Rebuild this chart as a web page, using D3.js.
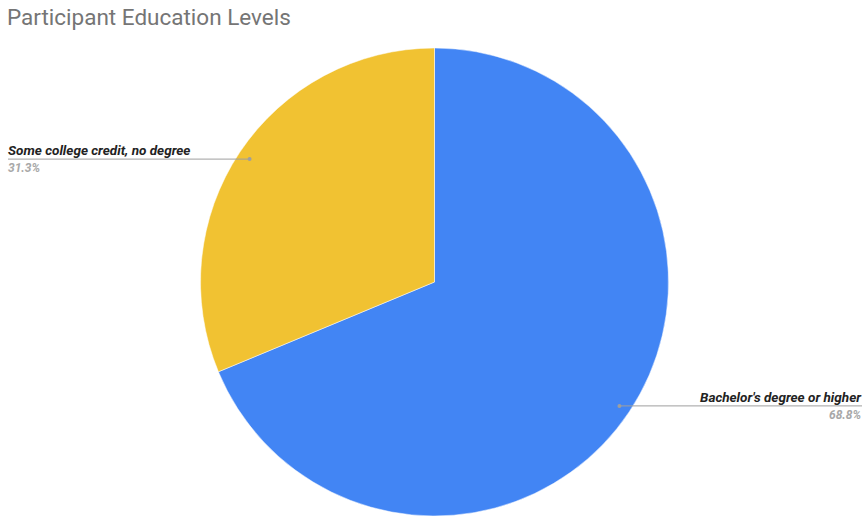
<!DOCTYPE html>
<html>
<head>
<meta charset="utf-8">
<script src="https://cdn.jsdelivr.net/npm/d3@7"></script>
<style>
  html, body { margin: 0; padding: 0; background: #fff; }
  svg { display: block; font-family: Roboto, "Noto Sans", sans-serif; }
</style>
</head>
<body>
<svg id="chart" width="863" height="521"></svg>
<script>
// Education level shares (percent)
const categories = ["Bachelor's degree or higher", "Some college credit, no degree"];
const values = [68.8, 31.3];
const valueLabels = ["68.8%", "31.3%"];
const colors = ["#4285f4", "#f1c232"];

const svg = d3.select("#chart");
const W = 863, H = 521;
const cx = 434.5, cy = 282, R = 234;

svg.append("text")
  .attr("x", 7).attr("y", 25)
  .attr("fill", "#757575")
  .attr("font-size", 22.5)
  .text("Participant Education Levels");

const pie = d3.pie().sort(null).value(d => d)(values);
const arc = d3.arc().innerRadius(0).outerRadius(R);
const color = d3.scaleOrdinal().domain(categories).range(colors);

const g = svg.append("g").attr("transform", `translate(${cx},${cy})`);
g.selectAll("path.slice")
  .data(pie)
  .join("path")
  .attr("class", "slice")
  .attr("d", arc)
  .attr("fill", (d, i) => color(categories[i]))
  .attr("stroke", "#fff")
  .attr("stroke-width", 0.5);

// Leader lines and labels
const anchorArc = d3.arc().innerRadius(R * 0.95).outerRadius(R * 0.95);
pie.forEach((d, i) => {
  const [ax, ay] = anchorArc.centroid(d);
  const px = cx + ax, py = cy + ay;
  const mid = (d.startAngle + d.endAngle) / 2;
  const right = Math.sin(mid) > 0;
  const lineY = py + 0.5;
  const xEnd = right ? W - 1 : 8;
  svg.append("line")
    .attr("x1", px).attr("y1", lineY)
    .attr("x2", xEnd).attr("y2", lineY)
    .attr("stroke", "#9e9e9e").attr("stroke-width", 1);
  svg.append("circle")
    .attr("cx", px).attr("cy", lineY).attr("r", 2)
    .attr("fill", "#9e9e9e");
  const tx = right ? W - 2 : 8;
  const anchor = right ? "end" : "start";
  svg.append("text")
    .attr("x", tx).attr("y", lineY - 4)
    .attr("text-anchor", anchor)
    .attr("font-size", 13.5)
    .attr("font-weight", "bold")
    .attr("font-style", "italic")
    .attr("fill", "#222")
    .text(categories[i]);
  svg.append("text")
    .attr("x", tx).attr("y", lineY + 13)
    .attr("text-anchor", anchor)
    .attr("font-size", 12)
    .attr("font-weight", "bold")
    .attr("font-style", "italic")
    .attr("fill", "#a8a8a8")
    .text(valueLabels[i]);
});
</script>
</body>
</html>
